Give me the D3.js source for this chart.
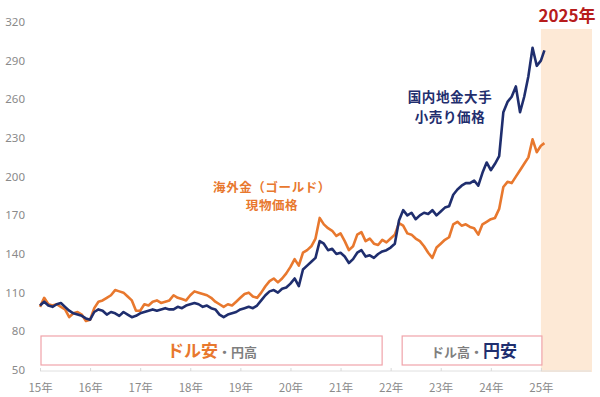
<!DOCTYPE html>
<html><head><meta charset="utf-8">
<script src="https://cdn.jsdelivr.net/npm/d3@7"></script>
<style>body{margin:0;background:#fff;}svg{display:block;}</style>
</head><body>
<svg id="c" width="600" height="397"></svg>
<script>
// ---- data ----
const startYear = 2015;
const lastTime = 2025.07;
const goldSpot = [
  99,106,101,100,101,99,97,91,94,95,93,88,
  89,98,103,104,106,108,112,111,110,107,104,96,
  96,101,100,103,104,102,103,104,108,106,105,104,
  108,111,110,109,108,106,103,101,99,101,100,103,
  106,109,110,107,106,110,115,119,121,118,121,125,
  130,136,131,141,143,146,152,168,163,160,158,154,
  156,150,143,146,155,157,150,152,148,147,151,149,
  152,155,164,162,156,155,152,150,146,141,137,145,
  148,151,153,163,165,162,163,161,160,155,163,165,
  167,168,175,192,196,195,200,205,210,215,229,219,
  224,226];
const retail = [
  100,103,100,99,101,102,99,96,94,93,92,90,
  89,95,97,96,93,95,94,92,95,93,91,92,
  94,95,96,97,96,97,98,97,97,99,98,100,
  101,102,101,99,100,98,97,93,91,93,94,95,
  97,98,99,98,100,104,108,111,112,110,113,114,
  117,121,115,128,131,134,137,150,148,143,144,140,
  141,138,133,136,141,143,138,139,137,140,142,143,
  145,148,166,174,170,172,167,170,172,171,174,170,
  173,176,177,186,190,193,195,195,197,193,203,211,
  205,210,216,250,258,262,270,250,262,278,300,286,
  290,298];
const yTicks = [50,80,110,140,170,200,230,260,290,320];
const xTickYears = [2015,2016,2017,2018,2019,2020,2021,2022,2023,2024,2025];
const xTickLabels = ["15年","16年","17年","18年","19年","20年","21年","22年","23年","24年","25年"];
const times = goldSpot.map((d,i)=> i===goldSpot.length-1 ? lastTime : startYear + i/12);

// ---- chart ----
const svg = d3.select("#c");
const x = d3.scaleLinear().domain([2015, 2026]).range([40, 591]);
const y = d3.scaleLinear().domain([50, 320]).range([370, 22]);
const jp = "'Noto Sans CJK JP','Noto Sans',sans-serif";
const num = "'Noto Sans','DejaVu Sans',sans-serif";

// 2025 shade
svg.append("rect").attr("x", x(2025)).attr("y", 29)
  .attr("width", x(2026) - x(2025) + 1).attr("height", 372 - 29)
  .attr("fill", "#fde9d6");
svg.append("text").attr("x", (x(2025)+x(2026))/2 + 1).attr("y", 22)
  .attr("text-anchor","middle").attr("font-family", jp).attr("font-weight","bold")
  .attr("font-size", 17).attr("fill","#b71c1c").text("2025年");

// y labels
svg.append("g").selectAll("text").data(yTicks).join("text")
  .attr("x", 25).attr("y", d=>y(d)).attr("dy","0.36em").attr("text-anchor","end")
  .attr("font-family", num).attr("font-size", 11.5).attr("fill","#8a8a8a").text(d=>d);

// x axis
const xAxis = d3.axisBottom(x).tickValues(xTickYears).tickSize(-3)
  .tickFormat((d,i)=>xTickLabels[i]);
const gx = svg.append("g").attr("transform","translate(0,371)").call(xAxis);
gx.select(".domain").attr("stroke","#e0e0e0").attr("d", `M${x(2015)},0H${x(2026)}`);
gx.selectAll(".tick line").attr("stroke","#d8d8d8");
gx.selectAll(".tick text").attr("font-family", jp).attr("font-size", 11.5)
  .attr("fill","#8a8a8a").attr("y", 13);

// boxes
function box(x0, x1) {
  svg.append("rect").attr("x", x0).attr("y", 336).attr("width", x1-x0).attr("height", 29)
    .attr("fill","#fff").attr("stroke","#f0a3aa").attr("stroke-width",1.2);
}
box(x(2015.02), x(2021.83));
box(x(2022.23), x(2025.02));
const t1 = svg.append("text").attr("x", 212).attr("y", 357).attr("text-anchor","middle")
  .attr("font-family", jp).attr("font-weight","bold");
t1.append("tspan").attr("font-size",17).attr("fill","#e8782e").text("ドル安");
t1.append("tspan").attr("font-size",13).attr("fill","#7f7f7f").text("・円高");
const t2 = svg.append("text").attr("x", 474).attr("y", 357).attr("text-anchor","middle")
  .attr("font-family", jp).attr("font-weight","bold");
t2.append("tspan").attr("font-size",13).attr("fill","#7f7f7f").text("ドル高・");
t2.append("tspan").attr("font-size",17).attr("fill","#1f2e6e").text("円安");

// lines
const line = d3.line().x((d,i)=>x(times[i])).y(d=>y(d));
svg.append("path").datum(goldSpot).attr("d", line).attr("fill","none")
  .attr("stroke","#e8782e").attr("stroke-width",2.6).attr("stroke-linejoin","round");
svg.append("path").datum(retail).attr("d", line).attr("fill","none")
  .attr("stroke","#1f2e6e").attr("stroke-width",2.6).attr("stroke-linejoin","round");

// annotations (separate text elements per line)
function label(lines, cx, y0, gap, size, color) {
  lines.forEach((t, i) => {
    svg.append("text").attr("x", cx).attr("y", y0 + i*gap).attr("text-anchor","middle")
      .attr("font-family", jp).attr("font-weight","bold").attr("font-size", size)
      .attr("letter-spacing", 0.6).attr("fill", color).text(t);
  });
}
label(["国内地金大手","小売り価格"], 450, 102, 19.6, 13.5, "#1f2e6e");
label(["海外金（ゴールド）","現物価格"], 272, 192, 18.2, 12.5, "#e8782e");
</script>
</body></html>
